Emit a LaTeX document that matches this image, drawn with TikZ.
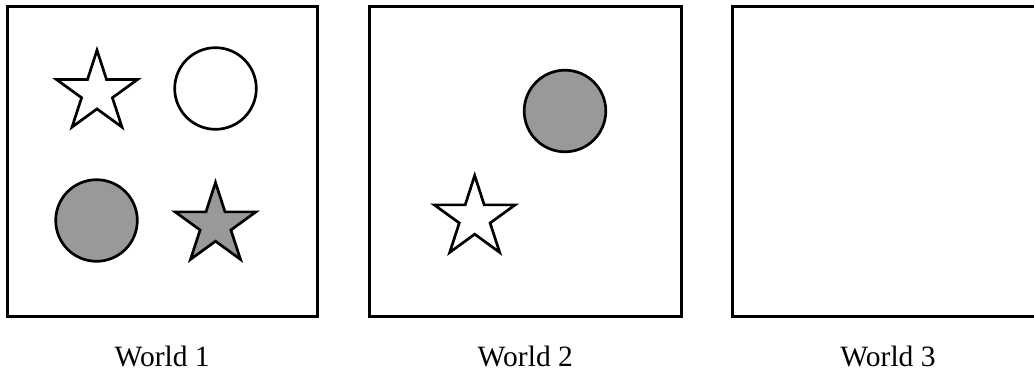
\documentclass[tikz,border=0pt]{standalone}
\usepackage{fontspec}
\setmainfont{Liberation Serif}
\begin{document}
\begin{tikzpicture}[x=1pt,y=-1pt,
  worldbox/.style={draw=black,line width=3pt},
  shapeline/.style={draw=black,line width=2.7pt,line join=miter},
  wlabel/.style={font=\fontsize{29.5}{31}\selectfont,anchor=base,inner sep=0pt},
  pics/starshape/.style={code={
    \path[shapeline,#1] (90:-42.5) -- (126:-16.2) -- (162:-42.5) -- (198:-16.2) -- (234:-42.5)
      -- (270:-16.2) -- (306:-42.5) -- (342:-16.2) -- (18:-42.5) -- (54:-16.2) -- cycle;
  }}
]
\useasboundingbox (0,0) rectangle (1034,372);
\begin{scope}
\clip (0,0) rectangle (1034,372);
% boxes
\draw[worldbox] (7,6.3) rectangle (317.5,316);
\draw[worldbox] (369.3,6.3) rectangle (681.3,316);
\draw[worldbox] (732.3,6.3) rectangle (1043,316);
\end{scope}
% World 1
\pic at (97,92.7) {starshape={fill=white}};
\draw[shapeline,fill=white] (215.5,88.5) circle (40.8);
\draw[shapeline,fill={rgb,255:red,153;green,153;blue,153}] (96.5,220.5) circle (40.8);
\pic at (215.5,225) {starshape={fill={rgb,255:red,153;green,153;blue,153}}};
% World 2
\draw[shapeline,fill={rgb,255:red,153;green,153;blue,153}] (565,111) circle (40.8);
\pic at (474.7,218) {starshape={fill=white}};
% labels
\node[wlabel] (l1) at (162.2,366.5) {World 1};
\node[wlabel] (l2) at (525.3,366.5) {World 2};
\node[wlabel] (l3) at (888,366.5) {World 3};
\end{tikzpicture}
\end{document}
